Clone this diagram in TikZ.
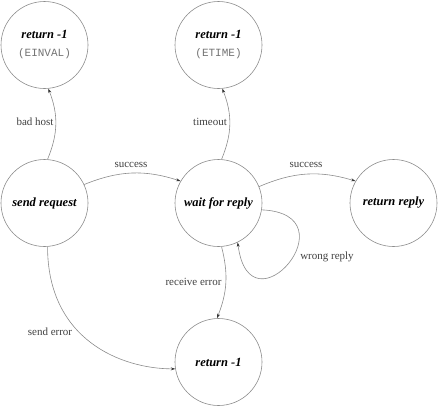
\documentclass[tikz,border=0pt]{standalone}
\usepackage{fontspec}
\setmainfont{Liberation Serif}
\setmonofont{Liberation Mono}
\usetikzlibrary{arrows.meta}
\definecolor{linegray}{gray}{0.55}
\definecolor{labgray}{gray}{0.25}
\definecolor{monogray}{gray}{0.45}
\begin{document}
\begin{tikzpicture}[x=1pt,y=1pt,
  state/.style={circle,draw=linegray,line width=0.6pt,minimum size=87pt,inner sep=0pt,
    font=\fontsize{12.5}{17}\selectfont\bfseries\itshape,align=center},
  trans/.style={draw=linegray,line width=0.6pt,-{Stealth[length=4.5pt,width=3pt,color=black!80]}},
  lab/.style={font=\fontsize{11}{13}\selectfont,text=labgray,inner sep=0pt}]
\useasboundingbox (0,0) rectangle (438,-407);
\node[state] (einval) at (44.5,-45) {return -1\\[1pt]{\fontsize{11}{13}\selectfont\mdseries\upshape\ttfamily\color{monogray}(EINVAL)}};
\node[state] (etime) at (218.5,-45) {return -1\\[1pt]{\fontsize{11}{13}\selectfont\mdseries\upshape\ttfamily\color{monogray}(ETIME)}};
\node[state] (send) at (44.5,-203) {send request};
\node[state] (wait) at (218.5,-203) {wait for reply};
\node[state] (reply) at (393.5,-203) {return reply};
\node[state] (ret) at (218.5,-362) {return -1};

\draw[trans] (send.86) to[bend right=22] (einval.-85);
\draw[trans] (wait.86) to[bend right=22] (etime.-85);
\draw[trans] (send.25) to[bend left=20] (wait.150);
\draw[trans] (wait.22) to[bend left=20] (reply.150);
\draw[trans] (wait.-9) .. controls +(92,-4) and +(12,-94) .. (wait.-64);
\draw[trans] (wait.-86) to[bend left=18] (ret.92);
\draw[trans] (send.-86) .. controls +(0,-93) and +(-54,0) .. (ret.189);

\node[lab] (l1) at (35,-122) {bad host};
\node[lab] (l2) at (210,-122) {timeout};
\node[lab] (l3) at (131,-165) {success};
\node[lab] (l4) at (306,-165) {success};
\node[lab] (l5) at (327,-257) {wrong reply};
\node[lab] (l6) at (193.5,-282) {receive error};
\node[lab] (l7) at (50,-332) {send error};
\end{tikzpicture}
\end{document}
